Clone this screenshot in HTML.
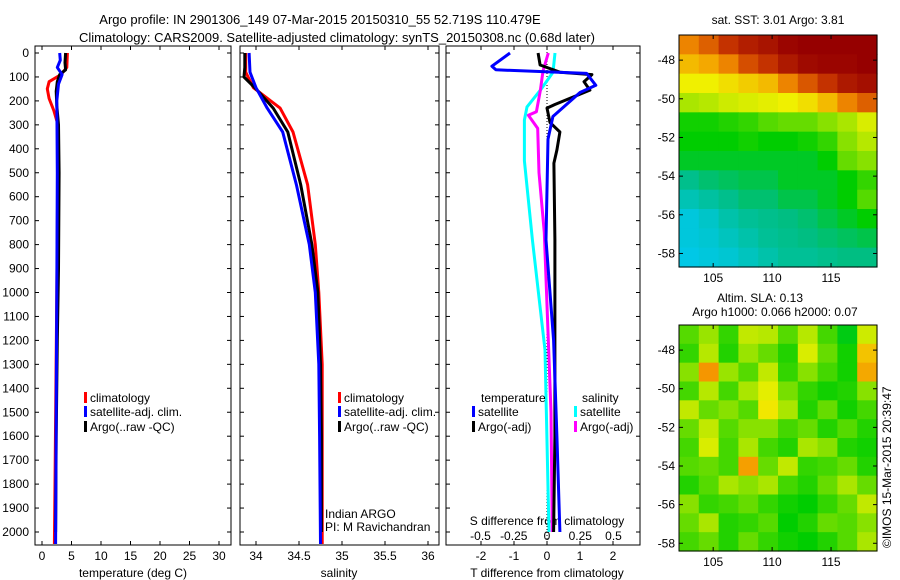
<!DOCTYPE html>
<html><head><meta charset="utf-8">
<style>
html,body{margin:0;padding:0;background:#fff;}
svg{display:block;font-family:"Liberation Sans",Arial,sans-serif;}
</style></head>
<body>
<svg id="c" width="900" height="580" viewBox="0 0 900 580" xmlns="http://www.w3.org/2000/svg">
<text x="320" y="24" text-anchor="middle" font-size="13">Argo profile: IN 2901306_149 07-Mar-2015 20150310_55 52.719S 110.479E</text>
<text x="337" y="42" text-anchor="middle" font-size="13">Climatology: CARS2009. Satellite-adjusted climatology: synTS_20150308.nc (0.68d later)</text>
<text x="778" y="24" text-anchor="middle" font-size="12">sat. SST: 3.01 Argo: 3.81</text>
<text x="760" y="302" text-anchor="middle" font-size="12">Altim. SLA: 0.13</text>
<text x="775" y="316" text-anchor="middle" font-size="12">Argo h1000: 0.066 h2000: 0.07</text>
<text transform="translate(891,548) rotate(-90)" font-size="12">©IMOS 15-Mar-2015 20:39:47</text>
<g id="g"></g>
</svg>
<script>
// ---- data ----
const depthTicks=[0,100,200,300,400,500,600,700,800,900,1000,1100,1200,1300,1400,1500,1600,1700,1800,1900,2000];
const tempTicks=[0,5,10,15,20,25,30];
const salTicks=[34,34.5,35,35.5,36];
const tdiffTicks=[-2,-1,0,1,2];
const sdiffTicks=[-0.5,-0.25,0,0.25,0.5];
const tdiffLabels=["-2","-1","0","1","2"];
const sdiffLabels=["-0.5","-0.25","0","0.25","0.5"];
const tempClimD=[0,60,90,120,150,190,240,290,400,600,1000,1400,1800,2050];
const tempClimV=[4.3,4.2,3.2,1.2,0.9,1.2,2.0,2.6,2.7,2.65,2.5,2.35,2.2,2.1];
const tempSatD=[0,30,60,90,130,200,300,500,1000,1500,2050];
const tempSatV=[3.0,3.1,2.6,3.4,2.8,2.5,2.55,2.6,2.5,2.4,2.3];
const tempArgoD=[0,40,70,90,120,160,220,300,500,900,1200,1600,2000];
const tempArgoV=[4.0,3.9,4.0,3.0,2.6,2.4,2.5,2.8,2.9,2.8,2.6,2.4,2.3];
const salClimD=[0,80,145,230,330,550,800,1000,1300,1600,2050];
const salClimV=[33.88,33.88,33.97,34.28,34.43,34.6,34.69,34.73,34.77,34.77,34.77];
const salSatD=[0,80,145,230,330,550,800,1000,1300,1600,2050];
const salSatV=[33.92,33.93,34.0,34.13,34.31,34.47,34.62,34.69,34.73,34.74,34.75];
const salArgoD=[0,60,100,150,230,330,550,800,1000,1300,1600,2000];
const salArgoV=[33.87,33.87,33.86,34.0,34.2,34.37,34.52,34.65,34.72,34.75,34.76,34.76];
const dTSatD=[0,55,70,85,135,165,265,360,780,1200,1600,2000];
const dTSatV=[-1.12,-1.67,-1.55,1.2,1.48,1.0,0.18,0.03,-0.03,0.2,0.3,0.39];
const dTArgoD=[0,50,80,90,120,155,215,230,290,330,405,460,780,1200,1600,2000];
const dTArgoV=[-0.27,-0.21,0.39,1.36,1.12,1.3,0.24,0.0,0.09,0.39,0.3,0.21,0.24,0.24,0.24,0.2];
const dSSatD=[0,80,155,225,280,450,780,1240,1870,2000];
const dSSatV=[0.06,0.045,-0.05,-0.15,-0.17,-0.17,-0.11,-0.015,0.01,0.015];
const dSArgoD=[0,75,155,245,260,315,500,750,1500,2000];
const dSArgoV=[0.01,-0.03,-0.05,-0.08,-0.14,-0.07,-0.06,-0.02,0.03,0.04];
const latTicks=[-48,-50,-52,-54,-56,-58];
const lonTicks=[105,110,115];
const sstGrid=[
[.8,.84,.9,.94,.96,.99,1,1,1,1],
[.74,.76,.8,.86,.9,.95,.98,.99,.99,1],
[.68,.68,.7,.72,.74,.8,.85,.9,.95,.97],
[.62,.63,.65,.66,.67,.68,.7,.74,.8,.84],
[.53,.53,.54,.55,.57,.58,.58,.6,.62,.66],
[.52,.52,.52,.53,.52,.52,.53,.55,.6,.63],
[.5,.5,.5,.5,.5,.5,.5,.52,.58,.6],
[.44,.46,.47,.48,.48,.5,.5,.5,.52,.55],
[.4,.42,.44,.46,.46,.48,.48,.5,.52,.57],
[.36,.38,.41,.43,.44,.45,.46,.48,.5,.52],
[.36,.37,.39,.41,.43,.44,.45,.46,.47,.48],
[.35,.36,.37,.39,.41,.43,.43,.44,.45,.45]];
const slaGrid=[
[.57,.61,.55,.64,.63,.57,.63,.56,.51,.65],
[.55,.63,.54,.61,.58,.54,.66,.58,.53,.73],
[.6,.78,.61,.57,.64,.55,.6,.56,.53,.76],
[.56,.63,.56,.62,.67,.59,.55,.53,.54,.6],
[.64,.58,.6,.57,.69,.62,.54,.58,.53,.56],
[.58,.64,.57,.6,.6,.56,.58,.54,.57,.54],
[.56,.66,.56,.62,.56,.54,.62,.6,.54,.53],
[.57,.58,.56,.77,.58,.64,.55,.56,.58,.54],
[.54,.57,.62,.6,.62,.56,.54,.58,.62,.58],
[.6,.55,.56,.58,.55,.53,.52,.55,.58,.64],
[.58,.62,.54,.55,.57,.52,.54,.58,.57,.6],
[.56,.58,.54,.58,.55,.53,.52,.54,.57,.62]];

// ---- layout ----
const NS="http://www.w3.org/2000/svg";
const G=document.getElementById('g');
function el(t,a,p){const e=document.createElementNS(NS,t);for(const k in a)e.setAttribute(k,a[k]);(p||G).appendChild(e);return e;}
const yD=d=>53+d*0.2395;
const xT=v=>42+v*5.9;
const xS=v=>256+(v-34)*86;
const xdT=v=>547+v*33;
const xdS=v=>547+v*133;
const panels=[{x0:35,x1:231,name:'temperature-panel'},{x0:240,x1:439,name:'salinity-panel'},{x0:446,x1:640,name:'difference-panel'}];
panels.forEach(p=>{
  const r=el('rect',{x:p.x0,y:46,width:p.x1-p.x0,height:499,fill:'none',stroke:'#000','stroke-width':1});
  
  
  depthTicks.forEach(d=>{
    el('line',{x1:p.x0,x2:p.x0+4,y1:yD(d),y2:yD(d),stroke:'#000'});
    el('line',{x1:p.x1-4,x2:p.x1,y1:yD(d),y2:yD(d),stroke:'#000'});
    if(p.x0===35){const t=el('text',{x:29,y:yD(d)+4,'text-anchor':'end','font-size':12});t.textContent=d;
      
      }
  });
});
function xticks(arr,labels,fx,y,top,bottom,name){
  arr.forEach((v,i)=>{const x=fx(v);
    if(top!==null)el('line',{x1:x,x2:x,y1:top,y2:top+4,stroke:'#000'});
    if(bottom!==null)el('line',{x1:x,x2:x,y1:bottom-4,y2:bottom,stroke:'#000'});
    const t=el('text',{x:x,y:y,'text-anchor':'middle','font-size':12});t.textContent=labels[i];
    
    });
}
xticks(tempTicks,tempTicks.map(String),xT,560,46,545,'temperature-tick-label');
xticks(salTicks,salTicks.map(String),xS,560,46,545,'salinity-tick-label');
xticks(tdiffTicks,tdiffLabels,xdT,560,46,545,'t-diff-tick-label');
xticks(sdiffTicks,sdiffLabels,xdS,540,null,null,'s-diff-tick-label');
function lab(x,y,s,name,anchor,size){const t=el('text',{x:x,y:y,'text-anchor':anchor||'middle','font-size':size||12});t.textContent=s;
  
  return t;}
lab(133,577,'temperature (deg C)','x-axis-title-temperature');
lab(339,577,'salinity','x-axis-title-salinity');
lab(547,577,'T difference from climatology','x-axis-title-t-diff');
lab(547,525,'S difference from climatology','s-diff-axis-title');
lab(325,518,'Indian ARGO','institution-label','start');
lab(325,531,'PI: M Ravichandran','pi-label','start');
el('line',{x1:547,x2:547,y1:46,y2:545,stroke:'#000','stroke-dasharray':'1,2'});
function prof(D,V,fx,color,name){
  const pts=D.map((d,i)=>fx(V[i]).toFixed(1)+','+yD(d).toFixed(1)).join(' ');
  const pl=el('polyline',{points:pts,fill:'none',stroke:color,'stroke-width':3,'stroke-linejoin':'round'});
  
  
}
prof(tempClimD,tempClimV,xT,'#f00','temp-climatology-line');
prof(tempArgoD,tempArgoV,xT,'#000','temp-argo-line');
prof(tempSatD,tempSatV,xT,'#00f','temp-satellite-line');
prof(salClimD,salClimV,xS,'#f00','sal-climatology-line');
prof(salArgoD,salArgoV,xS,'#000','sal-argo-line');
prof(salSatD,salSatV,xS,'#00f','sal-satellite-line');
prof(dSSatD,dSSatV,xdS,'#0ff','sdiff-satellite-line');
prof(dSArgoD,dSArgoV,xdS,'#f0f','sdiff-argo-line');
prof(dTArgoD,dTArgoV,xdT,'#000','tdiff-argo-line');
prof(dTSatD,dTSatV,xdT,'#00f','tdiff-satellite-line');
function legend(x,y,color,s,name){
  el('rect',{x:x,y:y-10,width:3,height:11,fill:color});
  lab(x+6,y,s,name,'start');
}
legend(84,402,'#f00','climatology','legend-climatology');
legend(84,416,'#00f','satellite-adj. clim.','legend-satellite-adj');
legend(84,431,'#000','Argo(..raw -QC)','legend-argo');
legend(338,402,'#f00','climatology','legend-sal-climatology');
legend(338,416,'#00f','satellite-adj. clim.','legend-sal-satellite-adj');
legend(338,431,'#000','Argo(..raw -QC)','legend-sal-argo');
lab(481,402,'temperature','legend-temperature-header','start');
lab(582,402,'salinity','legend-salinity-header','start');
legend(472,416,'#00f','satellite','legend-t-satellite');
legend(472,431,'#000','Argo(-adj)','legend-t-argo');
legend(574,416,'#0ff','satellite','legend-s-satellite');
legend(574,431,'#f0f','Argo(-adj)','legend-s-argo');
// colormap
const cmStops=[0,0.2,0.35,0.45,0.52,0.62,0.68,0.78,0.88,1];
const cmCols=[[0,0,140],[0,80,255],[0,200,230],[0,190,130],[0,205,0],[170,230,0],[240,240,0],[245,150,0],[205,60,0],[150,0,0]];
function cmap(v){
  for(let i=1;i<cmStops.length;i++){
    if(v<=cmStops[i]){const t=(v-cmStops[i-1])/(cmStops[i]-cmStops[i-1]);
      const a=cmCols[i-1],b=cmCols[i];
      return 'rgb('+a.map((c,k)=>Math.round(c+(b[k]-c)*t)).join(',')+')';}
  }
  return 'rgb(150,0,0)';
}
function map(grid,x0,y0,x1,y1,latTop,latBot,lonL,lonR,name,lonY){
  const rows=grid.length,cols=grid[0].length,cw=(x1-x0)/cols,ch=(y1-y0)/rows;
  grid.forEach((row,i)=>row.forEach((v,j)=>{
    const r=el('rect',{x:x0+j*cw,y:y0+i*ch,width:cw+0.6,height:ch+0.6,fill:cmap(v)});
    
    
  }));
  const f=el('rect',{x:x0,y:y0,width:x1-x0,height:y1-y0,fill:'none',stroke:'#000'});
  
  
  const ly=l=>y0+(latTop-l)/(latTop-latBot)*(y1-y0);
  const lx=l=>x0+(l-lonL)/(lonR-lonL)*(x1-x0);
  latTicks.forEach(l=>{const y=ly(l);
    el('line',{x1:x0,x2:x0+4,y1:y,y2:y,stroke:'#000'});el('line',{x1:x1-4,x2:x1,y1:y,y2:y,stroke:'#000'});
    lab(x0-4,y+4,String(l),name+'-lat-label','end');});
  lonTicks.forEach(l=>{const x=lx(l);
    el('line',{x1:x,x2:x,y1:y0,y2:y0+4,stroke:'#000'});el('line',{x1:x,x2:x,y1:y1-4,y2:y1,stroke:'#000'});
    lab(x,lonY,String(l),name+'-lon-label');});
}
map(sstGrid,679,35,877,267,-46.7,-58.7,102.1,118.9,'sst-map',282);
map(slaGrid,679,325,877,551,-46.7,-58.4,102.1,118.9,'sla-map',566);
</script>
</body></html>
